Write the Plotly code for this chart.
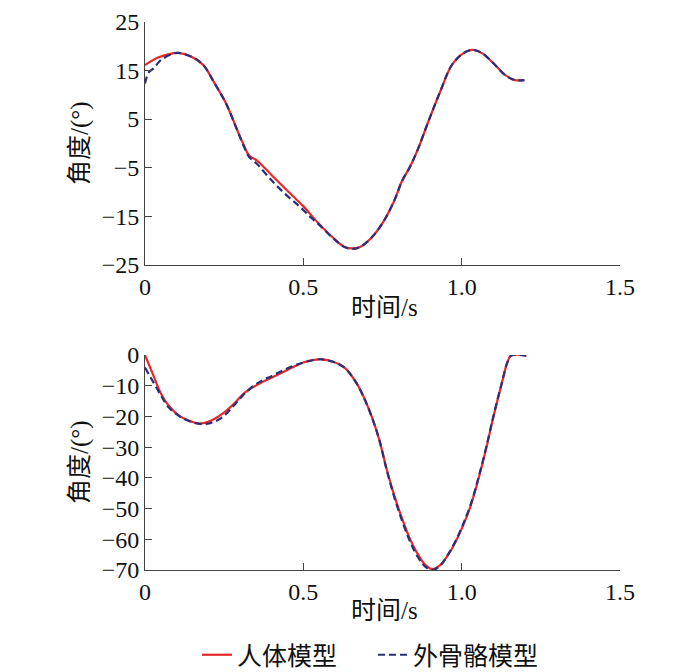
import plotly.graph_objects as go

# Top panel (angle vs time)
t_top_human = [0, 0.039, 0.087, 0.105, 0.147, 0.184, 0.22, 0.256, 0.292, 0.31, 0.329, 0.353,
               0.401, 0.449, 0.498, 0.546, 0.594, 0.63, 0.655, 0.679, 0.715, 0.751, 0.787,
               0.812, 0.836, 0.86, 0.896, 0.932, 0.969, 1.005, 1.035, 1.065, 1.101, 1.138,
               1.168, 1.198]
v_top_human = [16.1, 17.6, 18.5, 18.6, 17.8, 16.1, 12.3, 8.2, 2.6, -0.1, -2.5, -3.5,
               -6.6, -9.7, -12.8, -16.3, -19.4, -21.3, -21.6, -21.3, -19.4, -16.3, -11.8,
               -7.7, -4.9, -1.5, 4.7, 10.6, 16.1, 18.5, 19.2, 18.5, 16.4, 14.0,
               13.0, 13.0]

t_top_exo = [0, 0.012, 0.027, 0.05, 0.087, 0.105, 0.147, 0.184, 0.22, 0.256, 0.292, 0.31,
             0.329, 0.353, 0.401, 0.449, 0.485, 0.52, 0.546, 0.594, 0.63, 0.655, 0.679,
             0.715, 0.751, 0.787, 0.812, 0.836, 0.86, 0.896, 0.932, 0.969, 1.005, 1.035,
             1.065, 1.101, 1.138, 1.168, 1.198]
v_top_exo = [12.3, 14.6, 15.4, 17.1, 18.4, 18.6, 17.8, 16.1, 12.3, 8.2, 2.6, -0.3,
             -2.8, -4.2, -7.7, -10.8, -12.8, -15.0, -16.5, -19.5, -21.3, -21.7, -21.3,
             -19.4, -16.3, -11.8, -7.7, -4.9, -1.5, 4.7, 10.6, 16.1, 18.5, 19.2,
             18.5, 16.4, 14.0, 13.0, 13.0]

# Bottom panel
t_bot_human = [0, 0.027, 0.051, 0.075, 0.111, 0.147, 0.171, 0.208, 0.244, 0.28, 0.316,
               0.353, 0.401, 0.449, 0.498, 0.534, 0.558, 0.594, 0.63, 0.667, 0.691, 0.715,
               0.739, 0.763, 0.787, 0.812, 0.836, 0.86, 0.884, 0.908, 0.932, 0.957, 0.981,
               1.005, 1.029, 1.053, 1.077, 1.101, 1.126, 1.144, 1.156, 1.204]
v_bot_human = [0, -6.8, -12.7, -16.5, -20.0, -21.7, -22.3, -21.4, -19.2, -16.0, -12.2,
               -9.8, -7.3, -4.9, -2.5, -1.6, -1.4, -2.2, -4.1, -9.0, -13.8, -19.8,
               -27.3, -37.1, -45.7, -53.3, -59.7, -64.6, -68.2, -69.7, -68.4, -65.1, -60.8,
               -55.4, -48.9, -40.3, -30.6, -19.8, -9.5, -2.5, -0.2, -0.2]

t_bot_exo = [0, 0.027, 0.051, 0.075, 0.111, 0.147, 0.184, 0.208, 0.244, 0.28, 0.316,
             0.353, 0.401, 0.449, 0.498, 0.534, 0.558, 0.594, 0.63, 0.667, 0.691, 0.715,
             0.739, 0.763, 0.787, 0.812, 0.836, 0.86, 0.884, 0.908, 0.932, 0.957, 0.981,
             1.005, 1.029, 1.053, 1.077, 1.101, 1.126, 1.144, 1.156, 1.204]
v_bot_exo = [-4.1, -9.0, -13.3, -17.1, -20.1, -21.8, -22.5, -22.1, -20.3, -16.5, -12.4,
             -9.3, -6.8, -4.4, -2.5, -1.6, -1.4, -2.2, -4.1, -9.0, -13.8, -19.8,
             -27.3, -37.3, -46.2, -54.0, -60.5, -65.5, -68.8, -70.0, -68.6, -65.0, -60.5,
             -55.0, -48.5, -40.0, -30.3, -19.6, -9.4, -2.5, -0.2, -0.2]

x_ticks = [0, 0.5, 1.0, 1.5]
x_tick_labels = ["0", "0.5", "1.0", "1.5"]
y_ticks_top = [-25, -15, -5, 5, 15, 25]
y_ticks_bot = [0, -10, -20, -30, -40, -50, -60, -70]

name_human = "人体模型"
name_exo = "外骨骼模型"
x_title = "时间/s"
y_title = "角度/(°)"

RED = "#e8282b"
BLUE = "#2a2f78"
FONT = "Liberation Serif, Tinos, Nimbus Roman, DejaVu Serif, Noto Sans CJK SC"
DASH = "7px,4px"

fig = go.Figure()
fig.add_trace(go.Scatter(x=t_top_human, y=v_top_human, mode="lines", name=name_human,
                         line=dict(color=RED, width=2.2, shape="spline"),
                         xaxis="x", yaxis="y", legendgroup="h"))
fig.add_trace(go.Scatter(x=t_top_exo, y=v_top_exo, mode="lines", name=name_exo,
                         line=dict(color=BLUE, width=2.2, dash=DASH, shape="spline"),
                         xaxis="x", yaxis="y", legendgroup="e"))
fig.add_trace(go.Scatter(x=t_bot_human, y=v_bot_human, mode="lines", name=name_human,
                         line=dict(color=RED, width=2.2, shape="spline"),
                         xaxis="x2", yaxis="y2", legendgroup="h", showlegend=False))
fig.add_trace(go.Scatter(x=t_bot_exo, y=v_bot_exo, mode="lines", name=name_exo,
                         line=dict(color=BLUE, width=2.2, dash=DASH, shape="spline"),
                         xaxis="x2", yaxis="y2", legendgroup="e", showlegend=False))

W, H = 700, 672
OFF = 8  # page body margin


def px(xp):
    return (xp - OFF) / W


def py(yp):
    return (H - (yp - OFF)) / H


xd = [px(145), px(620)]
top_d = [py(265), py(21.7)]
bot_d = [py(570), py(355)]

tick_font = dict(family=FONT, size=24, color="#111")
common_x = dict(range=[0, 1.5], tickvals=x_ticks, ticktext=x_tick_labels,
                ticks="inside", ticklen=7, tickcolor="#444", showline=True,
                linecolor="#444", linewidth=1, showgrid=False, zeroline=False,
                automargin=False, tickfont=tick_font, domain=xd)
common_y = dict(ticks="inside", ticklen=7, tickcolor="#444", showline=True,
                linecolor="#444", linewidth=1, showgrid=False, zeroline=False,
                automargin=False, tickfont=tick_font)

fig.update_layout(
    width=W, height=H,
    margin=dict(l=0, r=0, t=0, b=0, autoexpand=False),
    paper_bgcolor="white", plot_bgcolor="white",
    xaxis=dict(anchor="y", **common_x),
    yaxis=dict(anchor="x", domain=top_d, range=[-25, 25], tickvals=y_ticks_top, **common_y),
    xaxis2=dict(anchor="y2", **common_x),
    yaxis2=dict(anchor="x2", domain=bot_d, range=[-70, 0], tickvals=y_ticks_bot, **common_y),
    legend=dict(orientation="h", x=px(197), xanchor="left", y=py(655), yanchor="middle",
                font=dict(family=FONT, size=25, color="#111"),
                entrywidth=131, entrywidthmode="pixels",
                tracegroupgap=0, bgcolor="rgba(0,0,0,0)"),
    showlegend=True,
)

ann_font = dict(family=FONT, size=25, color="#111")
for yc in [143, 462]:
    fig.add_annotation(text=y_title, x=px(80), y=py(yc), xref="paper", yref="paper",
                       textangle=-90, showarrow=False, font=ann_font,
                       xanchor="center", yanchor="middle")
for yc in [307, 610]:
    fig.add_annotation(text=x_title, x=px(384), y=py(yc), xref="paper", yref="paper",
                       showarrow=False, font=ann_font, xanchor="center", yanchor="middle")

fig.write_html("out.html")
